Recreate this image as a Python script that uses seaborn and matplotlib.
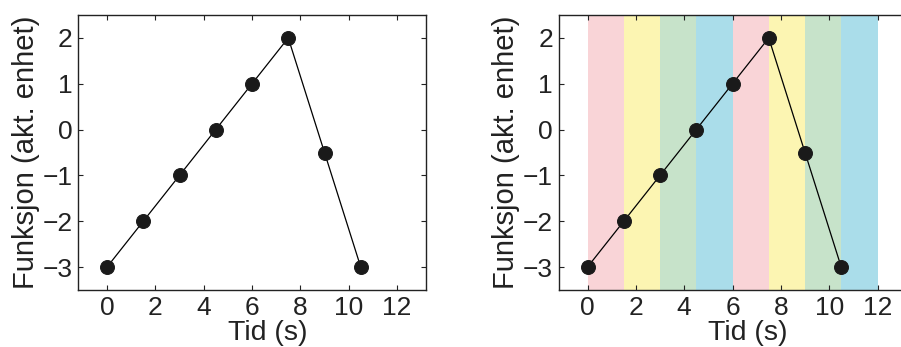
import matplotlib
matplotlib.use("Agg")
import matplotlib.pyplot as plt
import seaborn as sns
import pandas as pd

sns.set_theme(style="ticks")
plt.rcParams['font.family'] = ['Liberation Sans', 'DejaVu Sans']

tid = [0, 1.5, 3, 4.5, 6, 7.5, 9, 10.5]
funksjon = [-3, -2, -1, 0, 1, 2, -0.5, -3]
band_start = [0, 1.5, 3, 4.5, 6, 7.5, 9, 10.5]
band_end = [1.5, 3, 4.5, 6, 7.5, 9, 10.5, 12]
band_colors = ['#F9D4D7', '#FCF5B2', '#C7E3CA', '#AADDEA',
               '#F9D4D7', '#FCF5B2', '#C7E3CA', '#AADDEA']
xticks = [0, 2, 4, 6, 8, 10, 12]
yticks = [-3, -2, -1, 0, 1, 2]

df = pd.DataFrame({'Tid': tid, 'Funksjon': funksjon})

W, H = 901, 347
fig = plt.figure(figsize=(W / 100, H / 100), dpi=100)
ax1 = fig.add_axes([78 / W, (H - 290) / H, 348 / W, 275 / H])
ax2 = fig.add_axes([558.5 / W, (H - 290) / H, 348 / W, 275 / H])

for i, ax in enumerate([ax1, ax2]):
    if i == 1:
        for s, e, c in zip(band_start, band_end, band_colors):
            ax.axvspan(s, e, color=c, lw=0, zorder=0)
    sns.lineplot(data=df, x='Tid', y='Funksjon', ax=ax, color='black',
                 linewidth=0.9, marker='o', markersize=10,
                 markeredgecolor='#1a1a1a', markerfacecolor='#1a1a1a', zorder=3)
    ax.set_xlim(-1.2, 13.2)
    ax.set_ylim(-3.5, 2.5)
    ax.set_xticks(xticks)
    ax.set_yticks(yticks)
    ax.set_xticklabels([str(v) for v in xticks])
    ax.set_yticklabels(['\u22123', '\u22122', '\u22121', '0', '1', '2'])
    ax.tick_params(direction='in', length=3.5, width=0.8, top=True, right=True,
                   labelsize=19, colors='#222222', pad=4)
    for sp in ax.spines.values():
        sp.set_linewidth(1.0)
        sp.set_color('#222222')
    ax.set_xlabel('Tid (s)', fontsize=20.5, color='#222222')
    ax.xaxis.set_label_coords(0.545, -0.108)
    ax.set_ylabel('Funksjon (akt. enhet)', fontsize=21, color='#222222', labelpad=2)
    ax.set_facecolor('white')

fig.savefig('out.png', dpi=100)
